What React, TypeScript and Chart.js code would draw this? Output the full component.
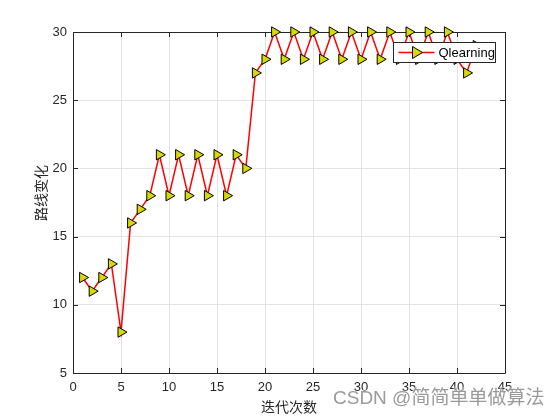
import React, { useEffect, useRef } from "react";
import { Chart, registerables } from "chart.js";

Chart.register(...registerables);

const iterations = [1, 2, 3, 4, 5, 6, 7, 8, 9, 10, 11, 12, 13, 14, 15, 16, 17, 18, 19, 20, 21, 22, 23, 24, 25, 26, 27, 28, 29, 30, 31, 32, 33, 34, 35, 36, 37, 38, 39, 40, 41, 42];
const routeValues = [12, 11, 12, 13, 8, 16, 17, 18, 21, 18, 21, 18, 21, 18, 21, 18, 21, 20, 27, 28, 30, 28, 30, 28, 30, 28, 30, 28, 30, 28, 30, 28, 30, 28, 30, 28, 30, 28, 30, 28, 27, 29];
const seriesLabel = "Qlearning";
const xTitle = "迭代次数";
const yTitle = "路线变化";
const watermark = "CSDN @简简单单做算法";

const AXIS_COLOR = "#262626";
const LINE_COLOR = "#ff0000";
const MARKER_FILL = "#d9d900";

function drawMarker(ctx: CanvasRenderingContext2D, x: number, y: number) {
  ctx.save();
  ctx.beginPath();
  ctx.moveTo(x + 6, y);
  ctx.lineTo(x - 4, y - 6);
  ctx.lineTo(x - 4, y + 6);
  ctx.closePath();
  ctx.fillStyle = MARKER_FILL;
  ctx.fill();
  ctx.strokeStyle = "#000";
  ctx.lineWidth = 1;
  ctx.stroke();
  ctx.restore();
}

function dataLabel(chart: any) {
  return chart.data.datasets[0].label;
}

const framePlugin = {
  id: "frame",
  beforeDatasetsDraw(chart: any) {
    const { ctx, chartArea, scales } = chart;
    const { left, right, top, bottom } = chartArea;
    ctx.save();
    ctx.strokeStyle = AXIS_COLOR;
    ctx.lineWidth = 1;
    ctx.beginPath();
    ctx.rect(Math.round(left) + 0.5, Math.round(top) + 0.5, Math.round(right - left), Math.round(bottom - top));
    ctx.stroke();
    const tl = 5;
    ctx.beginPath();
    scales.x.ticks.forEach((t: any) => {
      const px = Math.round(scales.x.getPixelForValue(t.value)) + 0.5;
      ctx.moveTo(px, bottom);
      ctx.lineTo(px, bottom - tl);
      ctx.moveTo(px, top);
      ctx.lineTo(px, top + tl);
    });
    scales.y.ticks.forEach((t: any) => {
      const py = Math.round(scales.y.getPixelForValue(t.value)) + 0.5;
      ctx.moveTo(left, py);
      ctx.lineTo(left + tl, py);
      ctx.moveTo(right, py);
      ctx.lineTo(right - tl, py);
    });
    ctx.stroke();

    ctx.fillStyle = AXIS_COLOR;
    ctx.font = '14px "Noto Sans CJK SC"';
    ctx.textAlign = "center";
    ctx.textBaseline = "middle";
    ctx.fillText(xTitle, (left + right) / 2, 407);
    ctx.save();
    ctx.translate(41, 193);
    ctx.rotate(-Math.PI / 2);
    ctx.fillText(yTitle, 0, 0);
    ctx.restore();
    ctx.restore();
  },
  afterDatasetsDraw(chart: any) {
    const { ctx } = chart;
    ctx.save();
    const bx = 393.5, by = 42.5, bw = 102, bh = 20;
    ctx.fillStyle = "#fff";
    ctx.fillRect(bx, by, bw, bh);
    ctx.strokeStyle = AXIS_COLOR;
    ctx.lineWidth = 1;
    ctx.strokeRect(bx, by, bw, bh);
    const ly = by + bh / 2;
    ctx.strokeStyle = LINE_COLOR;
    ctx.lineWidth = 1.5;
    ctx.beginPath();
    ctx.moveTo(bx + 5, ly);
    ctx.lineTo(bx + 41, ly);
    ctx.stroke();
    drawMarker(ctx, bx + 23, ly);
    ctx.fillStyle = "#000";
    ctx.font = '13px "Liberation Sans", Arial, sans-serif';
    ctx.textAlign = "left";
    ctx.textBaseline = "middle";
    ctx.fillText(dataLabel(chart), bx + 45, ly + 0.5);
    ctx.restore();
  },
};

export default function App() {
  const ref = useRef<HTMLCanvasElement | null>(null);
  useEffect(() => {
    if (!ref.current) return;
    const chart = new Chart(ref.current, {
      type: "line",
      data: {
        datasets: [
          {
            label: seriesLabel,
            data: iterations.map((x, i) => ({ x, y: routeValues[i] })),
            borderColor: LINE_COLOR,
            borderWidth: 1.5,
            backgroundColor: MARKER_FILL,
            pointStyle: "triangle",
            rotation: 90,
            pointRadius: 6,
            pointBorderColor: "#000",
            pointBorderWidth: 1,
            pointBackgroundColor: MARKER_FILL,
            tension: 0,
            clip: false,
          } as any,
        ],
      },
      options: {
        animation: false,
        responsive: false,
        maintainAspectRatio: false,
        layout: { padding: { left: 0, top: 32, right: 55, bottom: 0 } },
        plugins: { legend: { display: false }, tooltip: { enabled: false }, title: { display: false } },
        scales: {
          x: {
            type: "linear",
            min: 0,
            max: 45,
            ticks: { stepSize: 5, color: AXIS_COLOR, font: { family: '"Liberation Sans", Arial, sans-serif', size: 13 }, padding: 7, maxRotation: 0 },
            grid: { color: "#e3e3e3", drawTicks: false, lineWidth: 1 },
            border: { display: false },
            afterFit(scale: any) {
              scale.height = 47;
            },
          },
          y: {
            type: "linear",
            min: 5,
            max: 30,
            ticks: { stepSize: 5, color: AXIS_COLOR, font: { family: '"Liberation Sans", Arial, sans-serif', size: 13 }, padding: 6 },
            grid: { color: "#e3e3e3", drawTicks: false, lineWidth: 1 },
            border: { display: false },
            afterFit(scale: any) {
              scale.width = 73;
            },
          },
        },
      },
      plugins: [framePlugin],
    });
    return () => chart.destroy();
  }, []);
  return (
    <div style={{ position: "fixed", left: 0, top: 0, width: 560, height: 420, background: "#fff" }}>
      <canvas ref={ref} width={560} height={420} style={{ display: "block" }} />
      <div
        style={{
          position: "absolute",
          left: 333,
          top: 386,
          fontFamily: '"Liberation Sans", "Noto Sans CJK SC", sans-serif',
          fontSize: 19,
          lineHeight: "24px",
          color: "#9a9a9a",
          whiteSpace: "nowrap",
          textShadow: "0 0 2px #fff, 0 0 2px #fff",
        }}
      >
        {watermark}
      </div>
    </div>
  );
}
